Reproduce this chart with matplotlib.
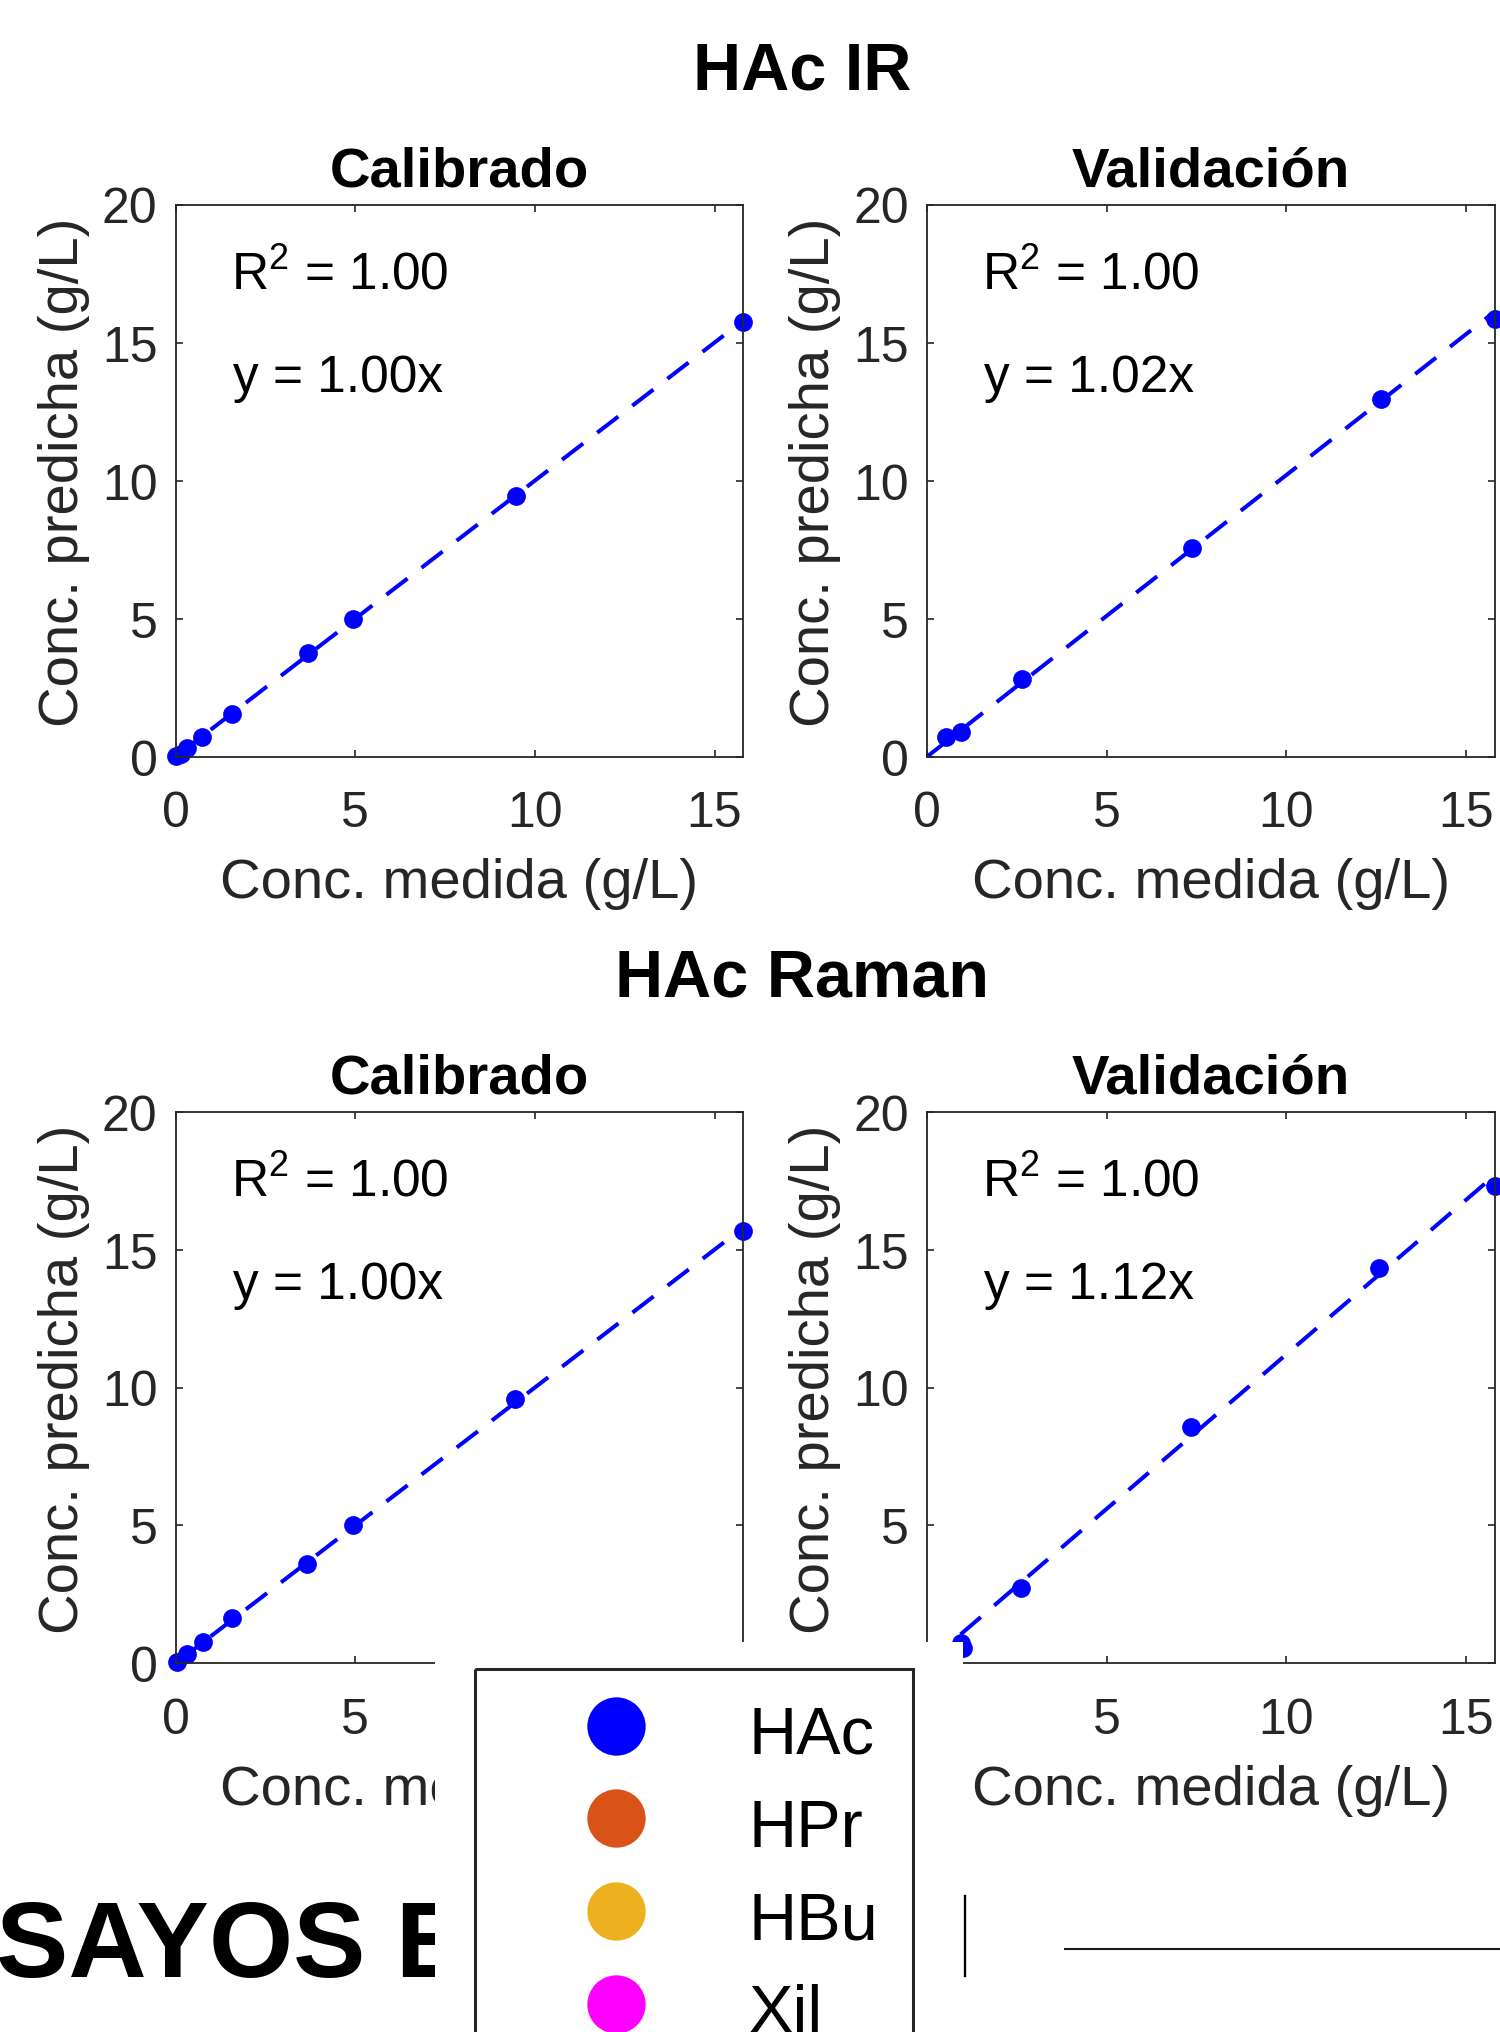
import matplotlib
matplotlib.use('Agg')
import matplotlib.pyplot as plt
from matplotlib.lines import Line2D
from matplotlib.patches import Rectangle

plt.rcParams['font.family'] = 'Liberation Sans'
plt.rcParams['mathtext.fontset'] = 'custom'
plt.rcParams['mathtext.rm'] = 'Liberation Sans'
plt.rcParams['mathtext.it'] = 'Liberation Sans:italic'

# ---- data ----
x_ticks = [0, 5, 10, 15]
y_ticks = [0, 5, 10, 15, 20]
x_max = 15.8

ir_cal_x = [0.02, 0.15, 0.33, 0.73, 1.57, 3.68, 4.94, 9.48, 15.8]
ir_cal_y = [0.02, 0.10, 0.30, 0.70, 1.56, 3.74, 4.99, 9.44, 15.76]
ir_val_x = [0.54, 0.96, 2.65, 7.37, 12.63, 15.8]
ir_val_y = [0.72, 0.89, 2.80, 7.55, 12.95, 15.86]
ra_cal_x = [0.05, 0.32, 0.75, 1.58, 3.67, 4.95, 9.45, 15.78]
ra_cal_y = [0.03, 0.34, 0.79, 1.63, 3.59, 5.00, 9.59, 15.69]
ra_val_x = [0.95, 1.00, 2.62, 7.35, 12.58, 15.8]
ra_val_y = [0.75, 0.55, 2.73, 8.57, 14.35, 17.32]

slopes = [1.00, 1.02, 1.00, 1.12]
r2 = [1.00, 1.00, 1.00, 1.00]
panel_titles = ['Calibrado', 'Validación', 'Calibrado', 'Validación']
group_titles = ['HAc IR', 'HAc Raman']

legend_names = ['HAc', 'HPr', 'HBu', 'Xil']
legend_colors = ['#0000FF', '#D95319', '#EDB120', '#FF00FF']

W, H = 1500, 2033
GRAY = '#262626'


def box(l, t, r, b):
    return [l / W, 1 - b / H, (r - l) / W, (b - t) / H]


fig = plt.figure(figsize=(W / 100, H / 100), dpi=100)

axes = [fig.add_axes(box(175.6, 205.5, 743.3, 757.7)),
        fig.add_axes(box(927, 205.5, 1494.7, 757.7)),
        fig.add_axes(box(175.6, 1112.7, 743.3, 1664.3)),
        fig.add_axes(box(927, 1112.7, 1494.7, 1664.3))]
data = [(ir_cal_x, ir_cal_y), (ir_val_x, ir_val_y),
        (ra_cal_x, ra_cal_y), (ra_val_x, ra_val_y)]

for i, ax in enumerate(axes):
    x, y = data[i]
    xl = [0, max(x)]
    ax.plot(xl, [slopes[i] * v for v in xl], color='blue', lw=2.9,
            ls=(0, (6.6, 4.4)))
    ax.plot(x, y, 'o', color='blue', ms=13.5, mew=0, clip_on=False)
    ax.set_xlim(0, x_max)
    ax.set_ylim(0, 20)
    ax.set_xticks(x_ticks)
    ax.set_yticks(y_ticks)
    ax.tick_params(direction='in', length=5, width=1.2, top=True, right=True,
                   labelsize=36, colors=GRAY)
    ax.tick_params(axis='x', pad=24)
    ax.tick_params(axis='y', pad=13)
    for s in ax.spines.values():
        s.set_linewidth(1.3)
        s.set_color(GRAY)
    ax.set_xlabel('Conc. medida (g/L)', fontsize=40.5, color=GRAY)
    ax.set_ylabel('Conc. predicha (g/L)', fontsize=40.5, color=GRAY)
    ax.xaxis.set_label_coords(0.5, -0.182)
    ax.yaxis.set_label_coords(-0.151, 0.516)
    ax.text(0.5, 1 + 18.9 / 552.2, panel_titles[i], transform=ax.transAxes,
            ha='center', va='baseline', fontsize=40.5, fontweight='bold')
    ax.text(1.53, 16.95, r'R$^{2}$ = %.2f' % r2[i], fontsize=37, va='baseline')
    ax.text(1.6, 13.25, 'y = %.2fx' % slopes[i], fontsize=37, va='baseline')

for j, t in enumerate(group_titles):
    top = [90, 996.7][j]
    fig.text(802 / W, 1 - top / H, t, fontsize=48, fontweight='bold',
             ha='center', va='baseline')

# big heading of the slide behind the legend
fig.text(-4 / W, 1 - 1976.7 / H, 'SAYOS E', fontsize=78, fontweight='bold',
         ha='left', va='baseline')

# legend pasted on top (white background)
leg = fig.add_axes(box(435, 1643, 963, 2033))
leg.set_zorder(10)
leg.set_facecolor('white')
for s in leg.spines.values():
    s.set_visible(False)
leg.set_xticks([])
leg.set_yticks([])
leg.set_xlim(435, 963)
leg.set_ylim(2033, 1643)
leg.add_patch(Rectangle((475.4, 1670), 912.8 - 475.4, 500, fill=False,
                        lw=2.2, edgecolor=GRAY))
for k, (name, c) in enumerate(zip(legend_names, legend_colors)):
    yc = 1726.7 + k * 92.7
    leg.plot(615.5, yc, 'o', ms=42, color=c, mew=0, clip_on=False)
    leg.text(748.7, 1754 + k * 92.7, name, fontsize=48, va='baseline',
             ha='left', color='black')

fig.add_artist(Line2D([965 / W, 965 / W], [1 - 1896.7 / H, 1 - 1977.3 / H],
                      lw=1.7, color='black', zorder=20))
fig.add_artist(Line2D([1064.6 / W, 1.0], [1 - 1950 / H, 1 - 1950 / H],
                      lw=1.5, color='#1a1a1a', zorder=20))

fig.savefig('out.png', dpi=100)
